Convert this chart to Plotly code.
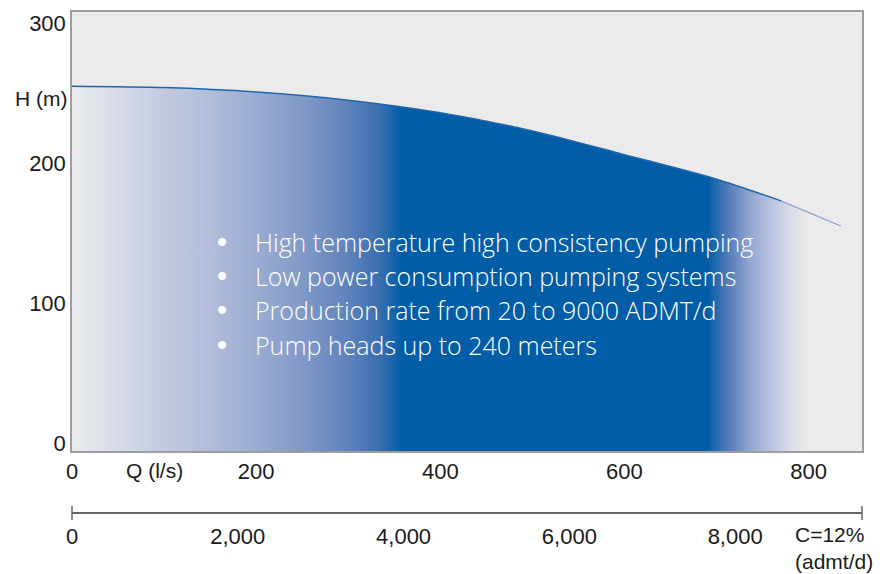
import plotly.graph_objects as go

# pump curve
flow_ls = [0, 100, 200, 300, 400, 500, 600, 700, 770, 835]
head_m = [255, 254, 250.8, 245, 236, 223, 206, 188.5, 173, 155]

q_ticks = [0, 200, 400, 600, 800]
h_ticks = [0, 100, 200, 300]
admt_ticks = [0, 2000, 4000, 6000, 8000]

bullets = [
    "High temperature high consistency pumping",
    "Low power consumption pumping systems",
    "Production rate from 20 to 9000 ADMT/d",
    "Pump heads up to 240 meters",
]

Q_MAX = 858
H_MIN, H_MAX = -6, 308
ADMT_MAX = 9530

FONT = "Liberation Sans, Arial, sans-serif"
TXT = "#1a1a1a"
BLUE = "#005da6"
GREY_BG = "#ebebeb"

# horizontal fade: light on the left, solid blue in the middle, fading out on the right
fade = [
    [0.0, "#eaeaee"], [0.04, "#dee1ea"], [0.11, "#c6cde1"], [0.17, "#b4bfdb"],
    [0.23, "#9eafd3"], [0.30, "#8199c8"], [0.36, "#5e83bc"], [0.40, "#3a6fb0"],
    [0.43, BLUE], [0.826, BLUE], [0.856, "#5a7fbb"], [0.882, "#92a6d0"],
    [0.908, "#b9c3df"], [0.934, "#d9dce8"], [0.96, GREY_BG], [1.0, GREY_BG],
]

fig = go.Figure()

# baseline along the bottom of the plot, the curve fills down to it
fig.add_trace(go.Scatter(
    x=[flow_ls[0], flow_ls[-1]], y=[H_MIN, H_MIN],
    mode="lines", line=dict(width=0), hoverinfo="skip",
))
fig.add_trace(go.Scatter(
    x=flow_ls, y=head_m,
    mode="lines",
    line=dict(width=0, shape="spline", smoothing=0.8),
    fill="tonexty",
    fillgradient=dict(type="horizontal", colorscale=fade),
    hoverinfo="skip",
))

fig.add_trace(go.Scatter(
    x=flow_ls[:-1], y=head_m[:-1],
    mode="lines",
    line=dict(color="#1f65ae", width=1.5, shape="spline", smoothing=0.8),
    hoverinfo="skip",
))
# the tail of the curve fades out
fig.add_trace(go.Scatter(
    x=flow_ls[-2:], y=head_m[-2:],
    mode="lines",
    line=dict(color="#8aa2d2", width=1.2),
    hoverinfo="skip",
))

# dummy trace so the production axis gets drawn
fig.add_trace(go.Scatter(
    x=admt_ticks, y=[0] * len(admt_ticks), xaxis="x2",
    mode="markers", marker=dict(opacity=0), hoverinfo="skip",
))

annotations = [
    dict(text="H (m)", x=-0.004, y=0.827, xanchor="right"),
    dict(text="Q (l/s)", x=0.105, y=0.0855, xanchor="center"),
    dict(text="C=12%<br>(admt/d)", x=0.9127, y=-0.016, xanchor="left",
         yanchor="top", align="left"),
]
for a in annotations:
    a.update(xref="paper", yref="paper", showarrow=False,
             font=dict(family=FONT, size=21, color=TXT))
    a.setdefault("yanchor", "middle")

for i, b in enumerate(bullets):
    y = 0.541 - i * 0.0683
    annotations.append(dict(text="•", x=0.1899, y=y, xref="paper", yref="paper",
                            showarrow=False, xanchor="center", yanchor="middle",
                            font=dict(family=FONT, size=29, color="white")))
    annotations.append(dict(text=b, x=0.2291, y=y, xref="paper", yref="paper",
                            showarrow=False, xanchor="left", yanchor="middle",
                            font=dict(family="Open Sans, " + FONT, size=25,
                                      color="white", weight=300)))

cap = dict(type="line", xref="paper", yref="paper", y0=-0.014, y1=0.014,
           line=dict(color="#666666", width=1.5))

# page body has an 8px margin, so the figure is 8px smaller than the window
fig.update_layout(
    width=882, height=566,
    margin=dict(l=64, r=28, t=2, b=61),
    paper_bgcolor="white",
    plot_bgcolor=GREY_BG,
    showlegend=False,
    hovermode=False,
    font=dict(family=FONT, size=22, color=TXT),
    xaxis=dict(
        range=[0, Q_MAX], tickvals=q_ticks, ticks="", showgrid=False, zeroline=False,
        showline=True, mirror=True, linecolor="#9d9d9d", linewidth=1.5,
        ticklabelstandoff=0, tickfont=dict(size=22, color=TXT),
    ),
    xaxis2=dict(
        range=[0, ADMT_MAX], overlaying="x", anchor="free", position=0, side="bottom",
        tickvals=admt_ticks, tickformat=",", ticks="", showgrid=False, zeroline=False,
        showline=True, linecolor="#666666", linewidth=1.5,
        ticklabelstandoff=4, tickfont=dict(size=22, color=TXT),
    ),
    yaxis=dict(
        domain=[0.1233, 1], range=[H_MIN, H_MAX], tickvals=h_ticks, ticks="",
        showgrid=False, zeroline=False,
        showline=True, mirror=True, linecolor="#9d9d9d", linewidth=1.5,
        ticklabelstandoff=0, tickfont=dict(size=22, color=TXT),
    ),
    annotations=annotations,
    shapes=[dict(cap, x0=0, x1=0), dict(cap, x0=1, x1=1)],
)

fig.write_html("out.html")
